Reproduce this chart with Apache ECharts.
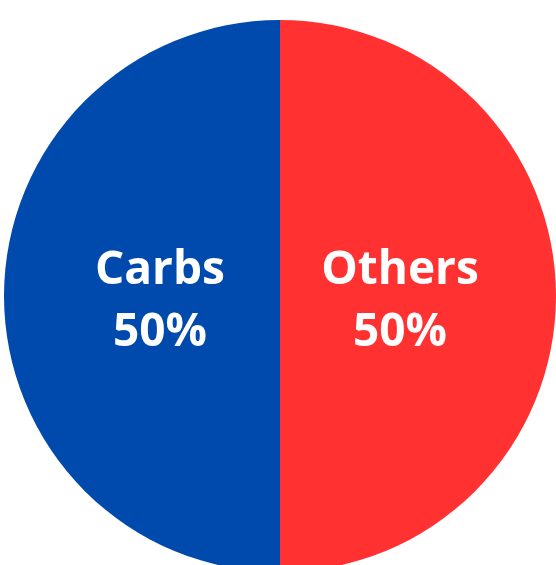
<!DOCTYPE html>
<html>
<head>
<meta charset="utf-8">
<script src="https://cdn.jsdelivr.net/npm/echarts@6/dist/echarts.min.js"></script>
<style>
html,body{margin:0;padding:0;background:#fff;}
#chart{width:556px;height:565px;}
</style>
</head>
<body>
<div id="chart"></div>
<script>
const categories = ['Carbs', 'Others'];
const values = [50, 50];
const colors = ['#004AAD', '#FF3131'];

const data = categories.map((c, i) => ({ name: c, value: values[i], itemStyle: { color: colors[i] } }));

const chart = echarts.init(document.getElementById('chart'), null, { renderer: 'canvas' });
chart.setOption({
  animation: false,
  backgroundColor: '#ffffff',
  series: [
    {
      type: 'pie',
      center: [280, 296],
      radius: [0, 276],
      startAngle: 90,
      clockwise: false,
      silent: true,
      label: { show: false },
      labelLine: { show: false },
      itemStyle: { borderWidth: 0 },
      data: data
    },
    {
      type: 'pie',
      center: [280, 302],
      radius: [0, 234],
      startAngle: 90,
      clockwise: false,
      silent: true,
      itemStyle: { color: 'rgba(0,0,0,0)', borderWidth: 0 },
      label: {
        show: true,
        position: 'inside',
        formatter: '{b}\n{d}%',
        color: '#ffffff',
        fontFamily: 'Open Sans',
        fontWeight: 'bold',
        fontSize: 46,
        lineHeight: 62
      },
      labelLine: { show: false },
      data: categories.map((c, i) => ({ name: c, value: values[i] }))
    }
  ]
});
</script>
</body>
</html>
